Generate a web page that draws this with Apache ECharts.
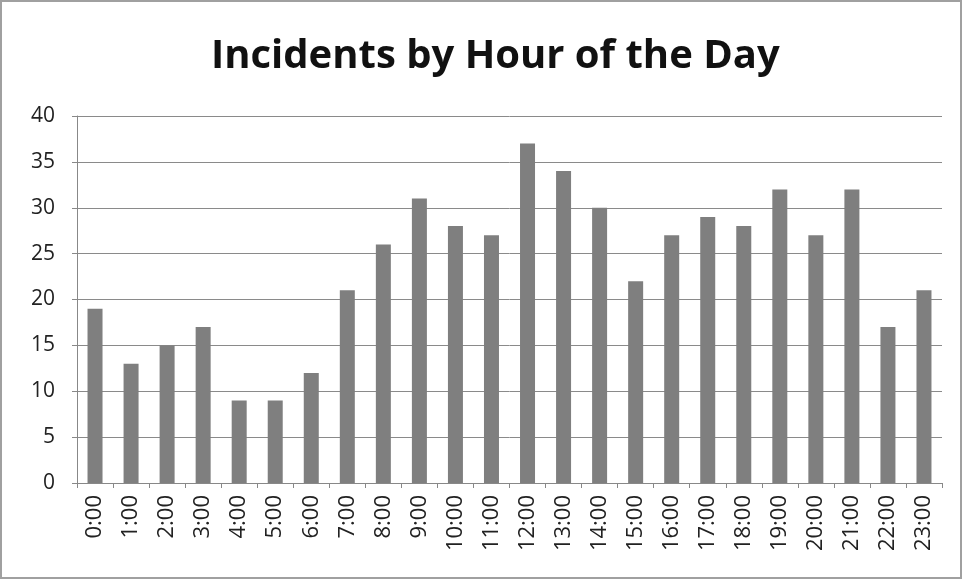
<!DOCTYPE html>
<html>
<head>
<meta charset="utf-8">
<script src="https://cdn.jsdelivr.net/npm/echarts@6/dist/echarts.min.js"></script>
<style>
  html, body { margin: 0; padding: 0; background: #fff; }
  #chart { width: 962px; height: 579px; box-sizing: border-box; border: 2px solid #a0a0a0; }
</style>
</head>
<body>
<div id="chart"></div>
<script>
// hours of the day
var hours = ['0:00','1:00','2:00','3:00','4:00','5:00','6:00','7:00','8:00','9:00','10:00','11:00',
  '12:00','13:00','14:00','15:00','16:00','17:00','18:00','19:00','20:00','21:00','22:00','23:00'];
// incident counts per hour
var incidents = [19, 13, 15, 17, 9, 9, 12, 21, 26, 31, 28, 27, 37, 34, 30, 22, 27, 29, 28, 32, 27, 32, 17, 21];

var myChart = echarts.init(document.getElementById('chart'));
var option = {
  animation: false,
  title: {
    text: 'Incidents by Hour of the Day',
    left: 204,
    top: 30,
    textStyle: { fontFamily: 'Open Sans', fontSize: 40, fontWeight: 'bold', color: '#111' }
  },
  grid: { left: 75, right: 18, top: 114, bottom: 94 },
  xAxis: {
    type: 'category',
    data: hours,
    boundaryGap: true,
    axisLine: { lineStyle: { color: '#888', width: 1 } },
    axisTick: { show: true, length: 5, lineStyle: { color: '#888' } },
    axisLabel: {
      rotate: 90, color: '#222', fontFamily: 'Open Sans', fontSize: 22, margin: 12
    }
  },
  yAxis: {
    type: 'value',
    min: 0, max: 40, interval: 5,
    axisLine: { show: true, lineStyle: { color: '#888' } },
    axisTick: { show: true, length: 5, lineStyle: { color: '#888' } },
    axisLabel: { color: '#222', fontFamily: 'Open Sans', fontSize: 21, margin: 22 },
    splitLine: { lineStyle: { color: '#8a8a8a', width: 1 } }
  },
  series: [{
    type: 'bar',
    data: incidents,
    barWidth: 15,
    itemStyle: { color: '#7f7f7f' }
  }]
};
myChart.setOption(option);
</script>
</body>
</html>
